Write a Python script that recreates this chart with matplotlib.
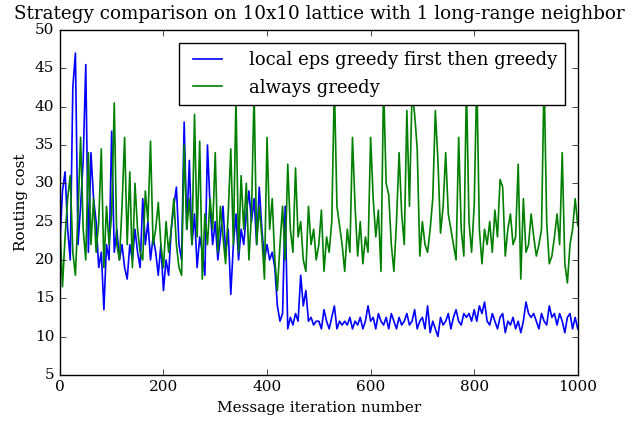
import numpy as np
import matplotlib
matplotlib.use('Agg')
import matplotlib.pyplot as plt

plt.style.use('classic')
plt.rcParams['font.family'] = 'DejaVu Serif'

# iteration numbers (one sample every 5 messages)
iterations = np.arange(0, 1001, 5)

# local eps greedy first then greedy
local_eps = [
    22, 29, 31.5, 24, 20, 42.5, 47, 22, 27, 33,
    45.5, 21, 34, 28, 25, 19, 21, 13.5, 22, 20,
    36.8, 21, 24, 20, 22, 19, 17.5, 22, 20, 24,
    21, 19, 28, 22, 25, 20, 23, 21, 18, 22,
    16, 20, 18, 24, 27, 29.5, 22, 20, 38, 24,
    33, 22, 26, 19, 23, 21, 18, 35, 27, 22,
    25, 20, 23, 27, 21, 24, 15.5, 22, 26, 20,
    24, 22, 26, 29, 25, 28, 22, 29.5, 24, 20,
    22, 20, 21, 19, 14, 12, 13, 27, 11, 12.5,
    11.5, 13, 12, 18, 14, 16, 12, 12.5, 11.5, 12,
    12, 11, 13.5, 12, 11, 12.5, 14, 11, 12, 11.5,
    12, 11.5, 12.5, 11, 12, 11.5, 12.5, 11, 12, 14,
    12, 12.5, 11, 13, 12, 11.5, 12.5, 11, 13, 12,
    11, 12.5, 11.5, 12, 13, 11.5, 12, 13.5, 11, 12,
    12.5, 11, 14, 10.5, 12, 11, 10, 12.5, 11.5, 12,
    13, 11, 12.5, 13.5, 12, 11.5, 13, 12.5, 13, 12,
    13.5, 12, 14, 13, 14.5, 12, 11.5, 13, 12, 11,
    12.5, 13, 10.5, 12, 11.5, 12.5, 11, 12, 10.5, 12,
    14.5, 13, 12.5, 13, 12, 11, 13, 12, 11.5, 14,
    12.5, 13, 11.5, 13, 12, 10.5, 12.5, 13, 11, 12.5,
    11,
]

# always greedy
always_greedy = [
    25, 16.5, 23, 28, 31, 21, 18, 26, 36, 24,
    20, 34, 22, 28, 21, 25, 34.5, 19, 27, 22,
    26, 40.5, 22, 20, 27, 36, 22, 31.5, 19, 30,
    24, 21, 20, 29, 25, 35.5, 22, 24, 27.5, 22,
    19, 25, 21, 24, 28, 22, 19, 18, 35, 24,
    28, 22, 39, 23, 35.5, 17.5, 26, 22, 28, 24,
    34, 21, 27, 23, 19.5, 26, 34.5, 22, 41, 21,
    31, 24, 30, 20, 26, 42, 22, 27, 23, 17.5,
    36, 24, 28, 20, 16, 22, 27, 20, 32.5, 24,
    21, 32, 23, 25, 20, 18.5, 27, 22, 24, 20,
    22, 26.5, 18.5, 23, 21, 25, 43, 27, 24.5, 22,
    18.5, 24, 21, 36, 27, 20.5, 25, 19.5, 23, 21,
    36, 28, 23, 26.5, 18.5, 43, 30, 28.5, 22, 18.5,
    25, 34, 26, 22, 39.5, 27, 42, 39, 34.5, 20.5,
    25, 22, 21, 24, 28, 39.5, 33, 23.5, 27, 34,
    26, 24, 22, 20, 36, 24, 20.5, 43, 25, 21,
    27, 44, 24, 19.5, 24, 22, 25, 21, 26.5, 23,
    30.5, 29.5, 20.5, 24, 26, 22, 23, 32.5, 17.5, 28,
    21, 22, 26, 23, 20.5, 22, 24, 44, 25, 19.5,
    20.5, 23, 26, 22, 34, 19.5, 17, 22, 24, 28,
    24.5,
]

fig = plt.figure(figsize=(6.37, 4.24), dpi=100, facecolor='white')
ax = fig.add_axes([0.094, 0.116, 0.813, 0.813])

ax.plot(iterations, local_eps, color='b', lw=1.2, label='local eps greedy first then greedy')
ax.plot(iterations, always_greedy, color='g', lw=1.2, label='always greedy')

ax.set_xlim(0, 1000)
ax.set_ylim(5, 50)
ax.set_xticks(np.arange(0, 1001, 200))
ax.set_yticks(np.arange(5, 51, 5))
ax.tick_params(labelsize=11)

ax.set_title('Strategy comparison on 10x10 lattice with 1 long-range neighbor',
             fontsize=13.2, pad=8)
ax.set_xlabel('Message iteration number', fontsize=11)
ax.set_ylabel('Routing cost', fontsize=11)

leg = ax.legend(loc='upper right', fontsize=13, handlelength=2.2,
                handletextpad=1.2, labelspacing=0.55, borderpad=0.45,
                borderaxespad=0.7)
leg.get_frame().set_linewidth(1.0)

fig.savefig('out.png', dpi=100, facecolor='white')
